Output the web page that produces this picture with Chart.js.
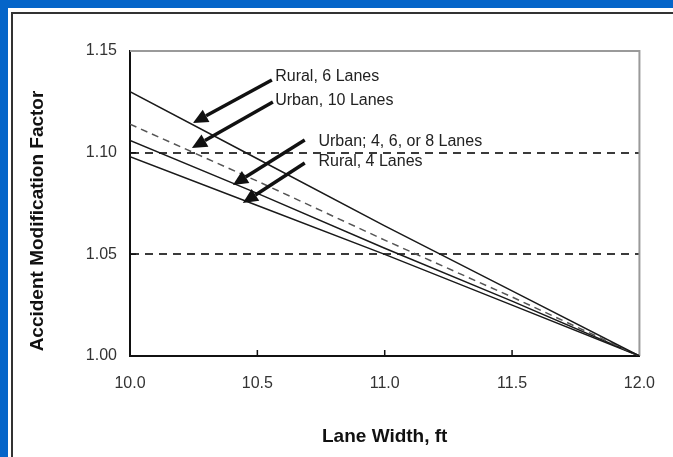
<!DOCTYPE html>
<html>
<head>
<meta charset="utf-8">
<script src="https://cdn.jsdelivr.net/npm/chart.js@4.4.1/dist/chart.umd.min.js"></script>
<style>
  html, body { margin: 0; padding: 0; }
  body { width: 673px; height: 457px; background: #0565c9; position: relative; overflow: hidden; }
  #panel { position: absolute; left: 8px; top: 8px; right: 0; bottom: 0; background: #fff; }
  #frame { position: absolute; left: 11px; top: 12px; right: -10px; bottom: -10px;
           border-top: 2px solid #333; border-left: 2px solid #333; }
  #chart { position: absolute; left: 0; top: 0; }
</style>
</head>
<body>
<div id="panel"></div>
<div id="frame"></div>
<canvas id="chart" width="673" height="457"></canvas>
<script>
// lane width (ft) and accident modification factors
const laneWidths = [10.0, 10.5, 11.0, 11.5, 12.0];
const rural6 = [1.130, 1.097, 1.064, 1.032, 1.000];
const urban10 = [1.114, 1.086, 1.057, 1.029, 1.000];
const urban468 = [1.106, 1.080, 1.053, 1.027, 1.000];
const rural4 = [1.098, 1.074, 1.050, 1.025, 1.000];

const seriesNames = ['Rural, 6 Lanes', 'Urban, 10 Lanes', 'Urban; 4, 6, or 8 Lanes', 'Rural, 4 Lanes'];
const xTicks = [10.0, 10.5, 11.0, 11.5, 12.0];
const yTicks = [1.00, 1.05, 1.10, 1.15];
const yTitle = 'Accident Modification Factor';

// label text position + arrow (tail -> head), in data units
const callouts = [
  { text: seriesNames[0], tx: 10.57, ty: 1.1372, x1: 10.557, y1: 1.1357, x2: 10.247, y2: 1.1146 },
  { text: seriesNames[1], tx: 10.57, ty: 1.1254, x1: 10.561, y1: 1.1249, x2: 10.243, y2: 1.1023 },
  { text: seriesNames[2], tx: 10.74, ty: 1.1052, x1: 10.686, y1: 1.1062, x2: 10.404, y2: 1.0841 },
  { text: seriesNames[3], tx: 10.74, ty: 1.0954, x1: 10.686, y1: 1.0949, x2: 10.443, y2: 1.0752 }
];

function pts(ys) {
  return laneWidths.map((x, i) => ({ x: x, y: ys[i] }));
}

const FONT = '"Liberation Sans", Arial, sans-serif';

const extras = {
  id: 'extras',
  beforeDatasetsDraw(chart) {
    const { ctx, chartArea: a, scales: { x, y } } = chart;
    ctx.save();
    // top + right frame of plot
    ctx.strokeStyle = '#9a9a9a';
    ctx.lineWidth = 2;
    ctx.beginPath();
    ctx.moveTo(a.left, a.top);
    ctx.lineTo(a.right, a.top);
    ctx.lineTo(a.right, a.bottom);
    ctx.stroke();
    // inside tick marks
    ctx.strokeStyle = '#111';
    ctx.lineWidth = 1.5;
    ctx.beginPath();
    xTicks.slice(1, -1).forEach(v => {
      const px = x.getPixelForValue(v);
      ctx.moveTo(px, a.bottom);
      ctx.lineTo(px, a.bottom - 6);
    });
    yTicks.slice(1, -1).forEach(v => {
      const py = y.getPixelForValue(v);
      ctx.moveTo(a.left, py);
      ctx.lineTo(a.left + 6, py);
    });
    ctx.stroke();
    // y axis title, sits a little low like the original
    ctx.translate(38, 221);
    ctx.rotate(-Math.PI / 2);
    ctx.font = 'bold 19px ' + FONT;
    ctx.fillStyle = '#111';
    ctx.textAlign = 'center';
    ctx.textBaseline = 'middle';
    ctx.fillText(yTitle, 0, 0);
    ctx.restore();
  },
  afterDatasetsDraw(chart) {
    const { ctx, scales: { x, y } } = chart;
    ctx.save();
    ctx.font = '16px ' + FONT;
    ctx.textBaseline = 'middle';
    ctx.textAlign = 'left';
    callouts.forEach(c => {
      ctx.fillStyle = '#222';
      ctx.fillText(c.text, x.getPixelForValue(c.tx), y.getPixelForValue(c.ty));
      const ax = x.getPixelForValue(c.x1), ay = y.getPixelForValue(c.y1);
      const bx = x.getPixelForValue(c.x2), by = y.getPixelForValue(c.y2);
      const ang = Math.atan2(by - ay, bx - ax);
      const len = 15, half = 7;
      const hx = bx - len * Math.cos(ang), hy = by - len * Math.sin(ang);
      ctx.strokeStyle = '#111';
      ctx.lineWidth = 3.5;
      ctx.beginPath();
      ctx.moveTo(ax, ay);
      ctx.lineTo(hx, hy);
      ctx.stroke();
      ctx.fillStyle = '#111';
      ctx.beginPath();
      ctx.moveTo(bx, by);
      ctx.lineTo(hx + half * Math.sin(ang), hy - half * Math.cos(ang));
      ctx.lineTo(hx - half * Math.sin(ang), hy + half * Math.cos(ang));
      ctx.closePath();
      ctx.fill();
    });
    ctx.restore();
  }
};

const solid = { borderColor: '#1a1a1a', borderWidth: 1.5, pointRadius: 0, fill: false, tension: 0 };

new Chart(document.getElementById('chart'), {
  type: 'line',
  data: {
    datasets: [
      Object.assign({ label: seriesNames[0], data: pts(rural6) }, solid),
      Object.assign({ label: seriesNames[1], data: pts(urban10) }, solid,
        { borderColor: '#555', borderDash: [7, 5] }),
      Object.assign({ label: seriesNames[2], data: pts(urban468) }, solid),
      Object.assign({ label: seriesNames[3], data: pts(rural4) }, solid)
    ]
  },
  options: {
    responsive: false,
    animation: false,
    layout: { padding: { left: 0, top: 51, right: 33, bottom: 0 } },
    plugins: { legend: { display: false }, tooltip: { enabled: false } },
    scales: {
      x: {
        type: 'linear',
        min: 10, max: 12,
        afterFit: s => { s.height = 101; },
        afterBuildTicks: s => { s.ticks = xTicks.map(v => ({ value: v })); },
        ticks: {
          padding: 18,
          color: '#333',
          font: { family: FONT, size: 16 },
          callback: v => v.toFixed(1)
        },
        grid: { display: false, drawTicks: false },
        border: { color: '#111', width: 2 },
        title: {
          display: true,
          text: 'Lane Width, ft',
          color: '#111',
          font: { family: FONT, size: 19, weight: 'bold' },
          padding: { top: 4, bottom: 9 }
        }
      },
      y: {
        type: 'linear',
        min: 1.0, max: 1.15,
        afterFit: s => { s.width = 130; },
        afterBuildTicks: s => { s.ticks = yTicks.map(v => ({ value: v })); },
        ticks: {
          padding: 13,
          color: '#333',
          font: { family: FONT, size: 16 },
          callback: v => v.toFixed(2)
        },
        grid: {
          drawTicks: false,
          color: c => (c.tick && (c.tick.value === 1.05 || c.tick.value === 1.1)) ? '#3a3a3a' : 'rgba(0,0,0,0)',
          lineWidth: 2
        },
        border: { color: '#111', width: 2, dash: [8, 6] },
        title: { display: false }
      }
    }
  },
  plugins: [extras]
});
</script>
</body>
</html>
